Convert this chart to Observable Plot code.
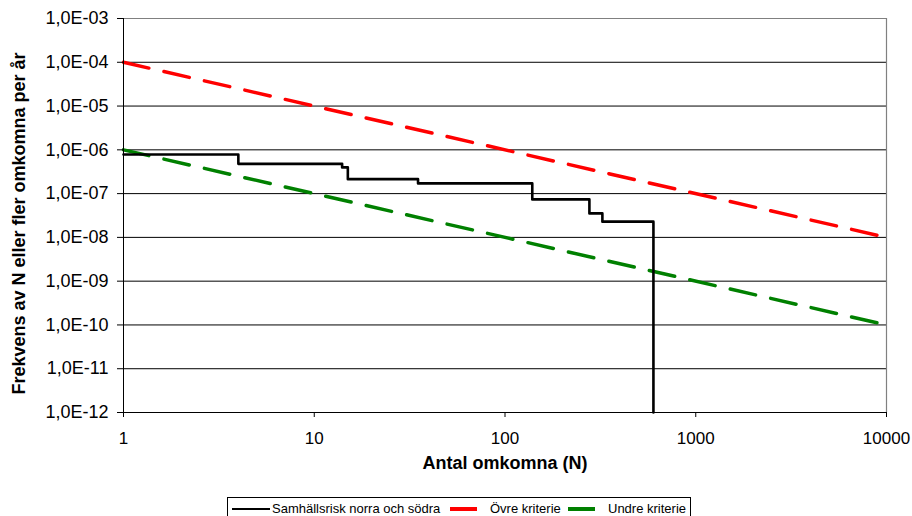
<!DOCTYPE html>
<html>
<head>
<meta charset="utf-8">
<script src="https://cdn.jsdelivr.net/npm/d3@7"></script>
<script src="https://cdn.jsdelivr.net/npm/@observablehq/plot@0.6"></script>
<style>
  body { margin: 0; background: #fff; font-family: "Liberation Sans", Arial, sans-serif; }
  #wrap { position: relative; width: 912px; height: 516px; overflow: hidden; }
  #legend { position: absolute; left: 227px; top: 497px; width: 462px; height: 26px;
            border: 1px solid #000; background: #fff; font-size: 13px; color: #000; }
  #legend .sw { position: absolute; top: 10px; height: 0; }
  #legend .tx { position: absolute; top: 3px; white-space: nowrap; }
</style>
</head>
<body>
<div id="wrap"></div>
<script>
// ---- data ----
const riskN    = [1, 4, 14, 15, 35, 139, 277, 324, 600, 600];
const riskFreq = [7.85e-7, 4.79e-7, 3.97e-7, 2.14e-7, 1.71e-7, 7.38e-8, 3.53e-8, 2.29e-8, 2.29e-8, 1e-12];
const kritN    = [1, 10000];
const ovreFreq = [1e-4, 1e-8];
const undreFreq = [1e-6, 1e-10];
const xTicks = [1, 10, 100, 1000, 10000];
const xTickLabels = ["1", "10", "100", "1000", "10000"];
const yTicks = [1e-3, 1e-4, 1e-5, 1e-6, 1e-7, 1e-8, 1e-9, 1e-10, 1e-11, 1e-12];
const yTickLabels = ["1,0E-03", "1,0E-04", "1,0E-05", "1,0E-06", "1,0E-07", "1,0E-08", "1,0E-09", "1,0E-10", "1,0E-11", "1,0E-12"];
const gridY = [1e-4, 1e-5, 1e-6, 1e-7, 1e-8, 1e-9, 1e-10, 1e-11];
const xTitle = "Antal omkomna (N)";
const yTitle = "Frekvens av N eller fler omkomna per år";
const seriesNames = ["Samhällsrisk norra och södra", "Övre kriterie", "Undre kriterie"];
const seriesColors = ["#000000", "#ff0000", "#008000"];

const risk = riskN.map((n, i) => ({n, f: riskFreq[i]}));
const ovre = kritN.map((n, i) => ({n, f: ovreFreq[i]}));
const undre = kritN.map((n, i) => ({n, f: undreFreq[i]}));

const xLab = d => xTickLabels[xTicks.findIndex(t => Math.abs(Math.log10(t) - Math.log10(d)) < 1e-6)];
const yLab = d => yTickLabels[yTicks.findIndex(t => Math.abs(Math.log10(t) - Math.log10(d)) < 1e-6)];

const chart = Plot.plot({
  width: 912,
  height: 497,
  marginLeft: 123,
  marginRight: 26,
  marginTop: 18,
  marginBottom: 85,
  style: {fontFamily: "'Liberation Sans', Arial, sans-serif", color: "#000", background: "#fff"},
  x: {type: "log", domain: [1, 10000]},
  y: {type: "log", domain: [1e-12, 1e-3]},
  marks: [
    Plot.ruleY(gridY, {stroke: "#000", strokeWidth: 1}),
    Plot.ruleY([1e-3], {stroke: "#808080", strokeWidth: 1.2}),
    Plot.ruleX([10000], {stroke: "#808080", strokeWidth: 1.2}),
    Plot.line(ovre, {x: "n", y: "f", stroke: seriesColors[1], strokeWidth: 3.5, strokeDasharray: "26,15.5"}),
    Plot.line(undre, {x: "n", y: "f", stroke: seriesColors[2], strokeWidth: 3.5, strokeDasharray: "26,15.5"}),
    Plot.line(risk, {x: "n", y: "f", stroke: seriesColors[0], strokeWidth: 2.6, curve: "step-after"}),
    Plot.ruleX([1], {stroke: "#000", strokeWidth: 1}),
    Plot.ruleY([1e-12], {stroke: "#000", strokeWidth: 1}),
    Plot.axisX({ticks: xTicks, tickFormat: xLab, tickSize: 5, tickPadding: 14, fontSize: 17, label: null, stroke: "#000"}),
    Plot.axisY({ticks: yTicks, tickFormat: yLab, tickSize: 6, tickPadding: 9, fontSize: 18, label: null, stroke: "#000"}),
    Plot.text([xTitle], {frameAnchor: "bottom", dy: 56, fontSize: 18, fontWeight: "bold", fill: "#000"}),
    Plot.text([yTitle], {frameAnchor: "left", textAnchor: "middle", dx: -104, dy: 8, rotate: -90, fontSize: 18, fontWeight: "bold", fill: "#000"})
  ]
});

const wrap = document.getElementById("wrap");
wrap.appendChild(chart);

// legend (below the SVG)
const legend = document.createElement("div");
legend.id = "legend";
const items = [
  {sw: [4, 42], tx: 44, w: 2},
  {sw: [222, 249], tx: 262, w: 4},
  {sw: [340, 367], tx: 380, w: 4}
];
items.forEach((it, i) => {
  const s = document.createElement("div");
  s.className = "sw";
  s.style.left = it.sw[0] + "px";
  s.style.width = (it.sw[1] - it.sw[0]) + "px";
  s.style.borderTop = it.w + "px solid " + seriesColors[i];
  s.style.top = (11 - it.w / 2) + "px";
  legend.appendChild(s);
  const t = document.createElement("span");
  t.className = "tx";
  t.style.left = it.tx + "px";
  t.textContent = seriesNames[i];
  legend.appendChild(t);
});
wrap.appendChild(legend);
</script>
</body>
</html>
